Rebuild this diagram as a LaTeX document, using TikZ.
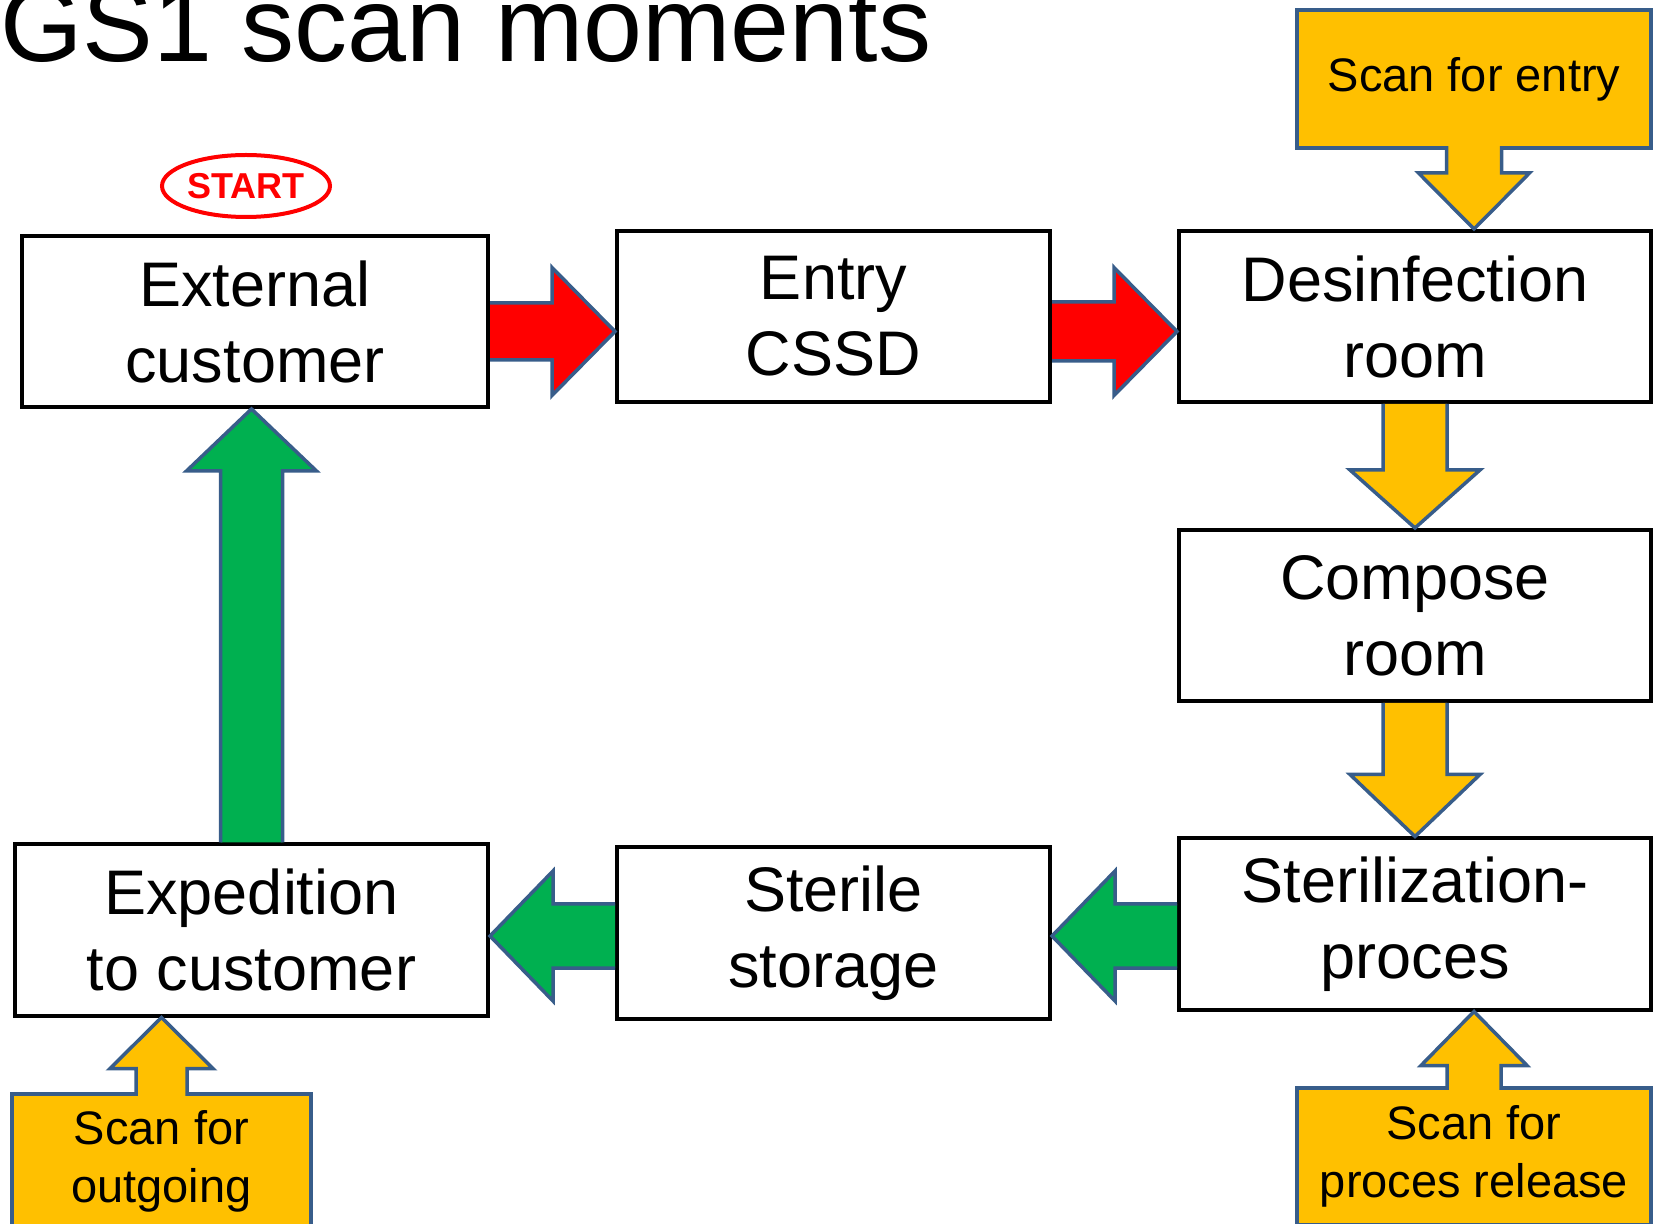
\documentclass[tikz,border=0pt]{standalone}
\usepackage{fontspec}
\setmainfont{Liberation Sans}
\usepackage{xcolor}
\usetikzlibrary{calc}
\usetikzlibrary{shapes.geometric}
\definecolor{scan-yellow}{RGB}{255, 192, 0}
\definecolor{flow-green}{RGB}{0, 176, 80}
\definecolor{flow-red}{RGB}{255, 0, 0}
\definecolor{arrow-blue}{RGB}{56, 93, 138}
% block arrow: [fill] {from} {to} {shaft half width} {head half width} {head length}
\newcommand{\blockarrow}[6][]{
  \coordinate (ba-s) at (#2);
  \coordinate (ba-t) at (#3);
  \coordinate (ba-h) at ($(ba-t)!#6!(ba-s)$);
  \filldraw[flowarrow, #1] ($(ba-s)!#4!90:(ba-t)$) -- ($(ba-h)!#4!-90:(ba-s)$)
      -- ($(ba-h)!#5!-90:(ba-s)$) -- (ba-t) -- ($(ba-h)!#5!90:(ba-s)$)
      -- ($(ba-h)!#4!90:(ba-s)$) -- ($(ba-s)!#4!-90:(ba-t)$);
}
\tikzset{
  room/.style={draw, line width=2pt, minimum height=85.5pt, align=center,
    font=\fontsize{31.5}{38}\selectfont},
  scanbox/.style={draw=arrow-blue, fill=scan-yellow, line width=1.75pt, align=center,
    font=\fontsize{23.5}{29}\selectfont},
  flowarrow/.style={draw=arrow-blue, line width=1.75pt}
}

\begin{document}
\begin{tikzpicture}[x=0.5pt, y=-0.5pt]
                \useasboundingbox (0,0) rectangle (1656,1224);
                \node[anchor=base west, inner sep=0, font=\fontsize{53}{60}\selectfont] (title) at (0,62) {GS1 scan moments};
                \node[ellipse, draw=flow-red, line width=2pt, text=flow-red, minimum width=84pt, minimum height=31pt,
                      inner sep=0, font=\bfseries\fontsize{18}{20}\selectfont] (start) at (246,186) {START};
                % rooms
                \node[room, minimum width=233pt] (ext) at (255,321.5) {External\\customer};
                \node[room, minimum width=216.5pt] (entry) at (833.5,316.5) {Entry\\CSSD};
                \node[room, minimum width=236pt] (desinf) at (1415,316.5) {Desinfection\\room};
                \node[room, minimum width=236pt] (compose) at (1415,615.5) {Compose\\room};
                \node[room, minimum width=236pt] (steril) at (1415,924) {Sterilization-\\proces};
                \node[room, minimum width=216.5pt] (storage) at (833.5,933) {Sterile\\storage};
                \node[room, minimum width=236.5pt] (exped) at (251.5,930) {Expedition\\to customer};
                % scan moments
                \node[scanbox, minimum width=177pt, minimum height=69pt] (scanin) at (1474,79) {Scan for entry};
                \node[scanbox, minimum width=149.5pt, minimum height=67pt] (scanout) at (161.5,1161) {Scan for\\outgoing};
                \node[scanbox, minimum width=177pt, minimum height=68.5pt] (scanrel) at (1474,1156.5) {Scan for\\proces release};
                \coordinate (row1) at (0,331.5);
                \coordinate (row2) at (0,936);
                \blockarrow[fill=flow-red]{ext.east |- row1}{entry.west |- row1}{14.25pt}{32pt}{31.5pt}
                \blockarrow[fill=flow-red]{entry.east |- row1}{desinf.west |- row1}{14.75pt}{32pt}{31.5pt}
                \blockarrow[fill=scan-yellow]{desinf.south}{compose.north}{16pt}{32.5pt}{29pt}
                \blockarrow[fill=scan-yellow]{compose.south}{steril.north}{16pt}{32.5pt}{31pt}
                \blockarrow[fill=flow-green]{steril.west |- row2}{storage.east |- row2}{16pt}{32.5pt}{31.5pt}
                \blockarrow[fill=flow-green]{storage.west |- row2}{exped.east |- row2}{16pt}{32.5pt}{31.5pt}
                \blockarrow[fill=flow-green]{exped.north}{exped.north |- ext.south}{15.5pt}{32.5pt}{31pt}
                \blockarrow[fill=scan-yellow]{$(scanin.south)+(0,1.75pt)$}{scanin.south |- desinf.north}{13.75pt}{27.75pt}{28pt}
                \blockarrow[fill=scan-yellow]{$(scanout.north)+(0,-1.75pt)$}{scanout.north |- exped.south}{12.75pt}{25.75pt}{25.5pt}
                \blockarrow[fill=scan-yellow]{$(scanrel.north)+(0,-1.75pt)$}{scanrel.north |- steril.south}{13.5pt}{26.5pt}{27pt}
            \end{tikzpicture}
\end{document}
